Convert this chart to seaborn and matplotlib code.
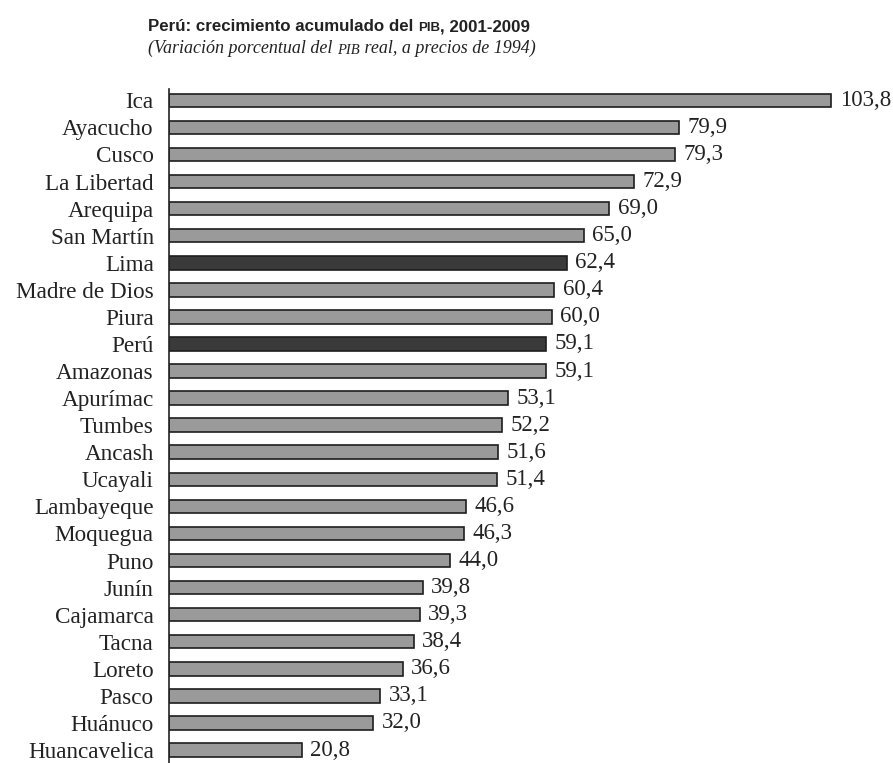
import numpy as np
import pandas as pd
import matplotlib.pyplot as plt
import seaborn as sns

regiones = ["Ica", "Ayacucho", "Cusco", "La Libertad", "Arequipa", "San Martín",
            "Lima", "Madre de Dios", "Piura", "Perú", "Amazonas", "Apurímac",
            "Tumbes", "Ancash", "Ucayali", "Lambayeque", "Moquegua", "Puno",
            "Junín", "Cajamarca", "Tacna", "Loreto", "Pasco", "Huánuco",
            "Huancavelica"]
crecimiento = [103.8, 79.9, 79.3, 72.9, 69.0, 65.0, 62.4, 60.4, 60.0, 59.1, 59.1,
               53.1, 52.2, 51.6, 51.4, 46.6, 46.3, 44.0, 39.8, 39.3, 38.4, 36.6,
               33.1, 32.0, 20.8]
destacados = ["Lima", "Perú"]

data = pd.DataFrame({"region": regiones, "valor": crecimiento})
colores = {r: ("#3a3a3a" if r in destacados else "#9a9a9a") for r in regiones}

sns.set_style("white")
plt.rcParams["font.family"] = ["Liberation Serif", "DejaVu Serif"]

fig = plt.figure(figsize=(8.93, 7.63), dpi=100)
ax = fig.add_axes([169 / 893, 0.0, 0.8002, 0.8827])

sns.barplot(data=data, y="region", x="valor", hue="region", palette=colores,
            legend=False, width=0.5, edgecolor="#1e1e1e", linewidth=1.2,
            saturation=1, ax=ax)

for cont in ax.containers:
    ax.bar_label(cont, labels=[f"{v:.1f}".replace(".", ",") for v in cont.datavalues],
                 padding=6, fontsize=16.5, color="#222222")

ax.set_xlim(0, 112)
ax.set_ylim(24.48, -0.4)
ax.set_xlabel("")
ax.set_ylabel("")
ax.set_xticks([])
ax.tick_params(axis="y", which="major", length=0, pad=11, labelsize=16.7,
               labelcolor="#222222")
ax.set_yticks([-0.4] + [i + 0.5 for i in range(24)], minor=True)
ax.tick_params(axis="y", which="minor", length=6, width=1.2, color="#222222")
for s in ["top", "right", "bottom"]:
    ax.spines[s].set_visible(False)
ax.spines["left"].set_linewidth(1.2)
ax.spines["left"].set_color("#222222")

# titulo con versalitas para PIB
t = fig.text(148 / 893, 1 - 31 / 763, "Perú: crecimiento acumulado del ",
             family=["Liberation Sans", "DejaVu Sans"], weight="bold", fontsize=12.2,
             color="#222222", va="baseline")
t2 = ax.annotate("PIB", xy=(1, 0), xycoords=t, va="bottom",
                 family=["Liberation Sans", "DejaVu Sans"], weight="bold", fontsize=9.5,
                 color="#222222", annotation_clip=False)
ax.annotate(", 2001-2009", xy=(1, 0), xycoords=t2, va="bottom",
            family=["Liberation Sans", "DejaVu Sans"], weight="bold", fontsize=12.2,
            color="#222222", annotation_clip=False)

s = fig.text(148 / 893, 1 - 53 / 763, "(Variación porcentual del ",
             style="italic", fontsize=13, color="#222222", va="baseline")
s2 = ax.annotate("PIB", xy=(1, 0), xycoords=s, va="bottom",
                 style="italic", fontsize=10.5, color="#222222", annotation_clip=False)
ax.annotate(" real, a precios de 1994)", xy=(1, 0), xycoords=s2, va="bottom",
            style="italic", fontsize=13, color="#222222", annotation_clip=False)

fig.savefig("out.png", dpi=100)
